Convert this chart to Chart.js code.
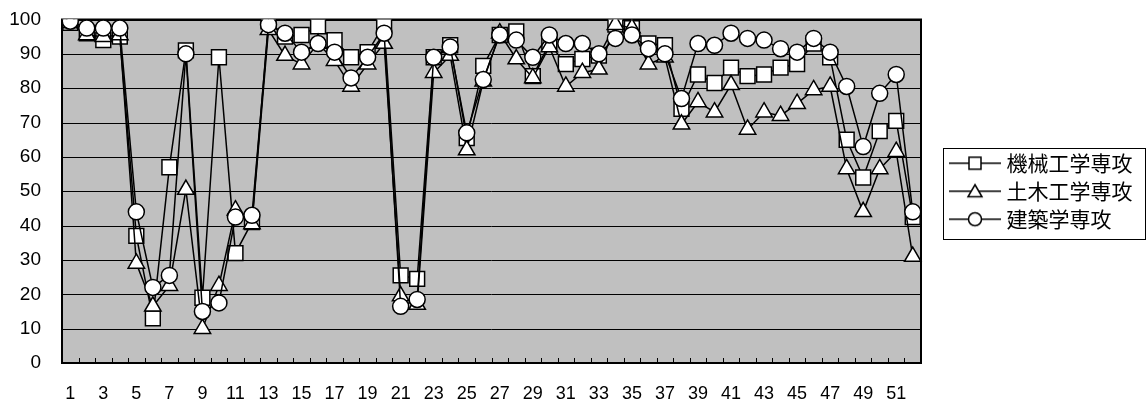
<!DOCTYPE html>
<html>
<head>
<meta charset="utf-8">
<script src="https://cdn.jsdelivr.net/npm/chart.js@4.4.1/dist/chart.umd.min.js"></script>
<style>
  html, body { margin: 0; padding: 0; background: #fff; }
  #wrap { width: 1147px; height: 403px; }
</style>
</head>
<body>
<div id="wrap"><canvas id="chart1" width="1147" height="403"></canvas></div>
<script>
var labels1 = [];
for (var i = 1; i <= 52; i++) labels1.push(String(i));

var seriesNames = ["機械工学専攻", "土木工学専攻", "建築学専攻"];

var mechData = [99, 96, 94, 95, 37, 13, 57, 91, 19, 89, 32, 41, 99.5, 95, 95.5, 98, 94, 89, 90.5, 98.5,
  25.5, 24.5, 89, 92.5, 65.5, 86.5, 95.5, 96.5, 83.5, 93, 87, 88.5, 89.5, 98.5, 97.5, 93, 92.5, 74, 84, 81.5,
  86, 83.5, 84, 86, 87, 93, 89, 65, 54, 67.5, 70.5, 42.5];
var civilData = [99, 95.5, 95, 95.5, 29, 16.5, 22.5, 50.5, 10, 22.5, 44.5, 40.5, 97, 89.5, 87, 93, 88, 80.5, 87, 93,
  19.5, 17, 84.5, 89.5, 62, 82, 96, 88.5, 83, 92, 80.5, 84.5, 85.5, 98.5, 97.5, 87, 89, 69.5, 76, 73,
  81, 68, 73, 72, 75.5, 79.5, 80.5, 56.5, 44, 56.5, 61.5, 31];
var archData = [99.5, 97.5, 97.5, 97.5, 44, 22, 25.5, 90, 15, 17.5, 42.5, 43, 98.5, 96, 90.5, 93, 90.5, 83, 89, 96,
  16.5, 18.5, 89, 92, 67, 82.5, 95.5, 94, 89, 95.5, 93, 93, 90, 94.5, 95.5, 91.5, 90, 77, 93, 92.5,
  96, 94.5, 94, 91.5, 90.5, 94.5, 90.5, 80.5, 63, 78.5, 84, 44];

var yTicks = [0, 10, 20, 30, 40, 50, 60, 70, 80, 90, 100];

var styles = ['rect', 'triangle', 'circle'];

// small picture for the legend: line with the marker in the middle
function legendIcon(style) {
  var c = document.createElement('canvas');
  c.width = 80; c.height = 20;
  var g = c.getContext('2d');
  g.strokeStyle = '#000';
  g.lineWidth = 1.5;
  g.beginPath(); g.moveTo(27, 10); g.lineTo(79, 10); g.stroke();
  g.fillStyle = '#fff';
  g.beginPath();
  var cx = 53;
  if (style == 'rect') {
    g.rect(cx - 6, 4, 12, 12);
  } else if (style == 'triangle') {
    g.moveTo(cx, 3.5); g.lineTo(cx + 7, 15.5); g.lineTo(cx - 7, 15.5); g.closePath();
  } else {
    g.arc(cx, 10, 6.5, 0, Math.PI * 2);
  }
  g.fill(); g.stroke();
  return c;
}

var plotDeco = {
  id: 'plotDeco',
  beforeDatasetsDraw: function(chart) {
    var a = chart.chartArea, ctx = chart.ctx;
    ctx.save();
    ctx.fillStyle = '#c0c0c0';
    ctx.fillRect(a.left, a.top, a.right - a.left, a.bottom - a.top);
    // horizontal gridlines over the fill
    var ys = chart.scales.y;
    ctx.strokeStyle = '#000';
    ctx.lineWidth = 1;
    yTicks.forEach(function(v) {
      var py = Math.round(ys.getPixelForValue(v)) + 0.5;
      ctx.beginPath(); ctx.moveTo(a.left, py); ctx.lineTo(a.right, py); ctx.stroke();
    });
    // category ticks pointing up from the x axis
    var xs = chart.scales.x;
    var half = (xs.getPixelForValue(1) - xs.getPixelForValue(0)) / 2;
    for (var k = 0; k <= labels1.length; k++) {
      var px = Math.round(xs.getPixelForValue(k) - half) + 0.5;
      ctx.beginPath(); ctx.moveTo(px, a.bottom); ctx.lineTo(px, a.bottom - 5); ctx.stroke();
    }
    ctx.lineWidth = 2;
    ctx.strokeRect(a.left, a.top, a.right - a.left, a.bottom - a.top);
    ctx.restore();
  },
  afterDraw: function(chart) {
    var lg = chart.legend;
    if (!lg || !lg.legendHitBoxes.length) return;
    var hb = lg.legendHitBoxes;
    var t = hb[0].top + hb[0].height / 2 - 15;
    var b = hb[hb.length - 1].top + hb[hb.length - 1].height / 2 + 20;
    var ctx = chart.ctx;
    ctx.save();
    ctx.strokeStyle = '#000';
    ctx.lineWidth = 1;
    ctx.strokeRect(Math.round(lg.left + 22) + 0.5, Math.round(t) + 0.5, Math.round(lg.right - lg.left - 24), Math.round(b - t));
    ctx.restore();
  }
};

function makeSet(name, data, style, radius, order) {
  return {
    label: name,
    data: data,
    borderColor: '#000',
    borderWidth: 1.5,
    pointStyle: style,
    pointRadius: radius,
    pointHoverRadius: radius,
    pointBackgroundColor: '#fff',
    pointBorderColor: '#000',
    pointBorderWidth: 1.5,
    fill: false,
    tension: 0,
    order: order
  };
}

var ctx1 = document.getElementById('chart1').getContext('2d');
var myChart = new Chart(ctx1, {
  type: 'line',
  data: {
    labels: labels1,
    datasets: [
      makeSet(seriesNames[0], mechData, 'rect', 10.5, 2),
      makeSet(seriesNames[1], civilData, 'triangle', 9.5, 1),
      makeSet(seriesNames[2], archData, 'circle', 8, 0)
    ]
  },
  options: {
    responsive: false,
    animation: false,
    layout: { padding: { left: 0, top: 19.5, right: 0, bottom: 0 } },
    scales: {
      x: {
        offset: true,
        grid: { display: false, drawTicks: false },
        border: { display: true, color: '#000', width: 2 },
        afterFit: function(scale) { scale.height = 40; },
        ticks: {
          autoSkip: false,
          maxRotation: 0,
          padding: 22,
          color: '#000',
          font: { family: 'Liberation Sans', size: 18, lineHeight: 1 },
          callback: function(val, idx) { return idx % 2 == 0 ? labels1[idx] : ''; }
        }
      },
      y: {
        min: 0,
        max: 100,
        grid: { display: false, drawTicks: false },
        border: { display: true, color: '#000', width: 2 },
        afterFit: function(scale) {
          scale.width = 62;
          scale.paddingTop = 0;
          scale.paddingBottom = 0;
        },
        ticks: {
          stepSize: 10,
          padding: 21,
          color: '#000',
          font: { family: 'Liberation Sans', size: 19, lineHeight: 1 }
        }
      }
    },
    plugins: {
      tooltip: { enabled: false },
      legend: {
        position: 'right',
        fullSize: false,
        labels: {
          usePointStyle: true,
          pointStyleWidth: 68,
          padding: 7,
          color: '#000',
          font: { family: 'Noto Sans CJK JP', size: 21 },
          generateLabels: function(chart) {
            return chart.data.datasets.map(function(ds, i) {
              return {
                text: ds.label,
                pointStyle: legendIcon(styles[i]),
                fillStyle: '#fff',
                strokeStyle: '#000',
                lineWidth: 0,
                hidden: false,
                datasetIndex: i,
                fontColor: '#000'
              };
            });
          }
        }
      }
    }
  },
  plugins: [plotDeco]
});

// legend column is wider than its content, as in the original
var legendFit = myChart.legend.fit;
myChart.legend.fit = function() {
  legendFit.call(this);
  this.width = 226;
};
myChart.update();
</script>
</body>
</html>
